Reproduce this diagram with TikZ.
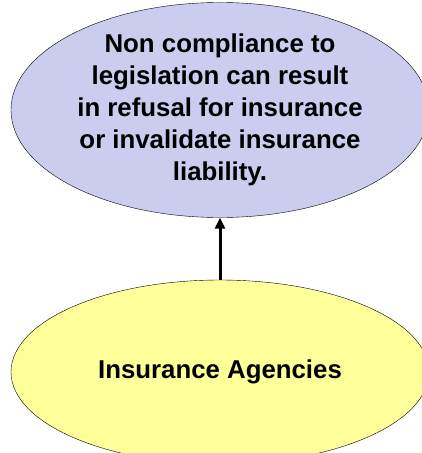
\documentclass[tikz,border=0pt]{standalone}
\usepackage{fontspec}
\setmainfont{Liberation Sans}
\usetikzlibrary{shapes.geometric, arrows.meta}
\definecolor{tim}{RGB}{204,204,238}
\definecolor{vang}{RGB}{255,255,153}
\begin{document}
\begin{tikzpicture}[x=1pt, y=1pt, line join=round, >={Triangle[length=11pt, width=10pt]},
  font=\bfseries\fontsize{25.8}{32}\selectfont]
% Khung hình
\useasboundingbox (0,0) rectangle (421,-453);
\tikzset{oval/.style={ellipse, draw=black, thin, inner sep=0pt, align=center, minimum width=418pt}}
% Elip trên: hậu quả
\node[oval, fill=tim, minimum height=198pt] (hauqua) at (220,-110)
  {Non compliance to\\legislation can result\\in refusal for insurance\\ or invalidate insurance\\liability.};
% Elip dưới: cơ quan bảo hiểm
\node[oval, fill=vang, minimum height=184pt] (baohiem) at (220,-372) {Insurance Agencies};
% Mũi tên
\draw[->, line width=3pt] (baohiem) -- (hauqua);
\end{tikzpicture}
\end{document}
